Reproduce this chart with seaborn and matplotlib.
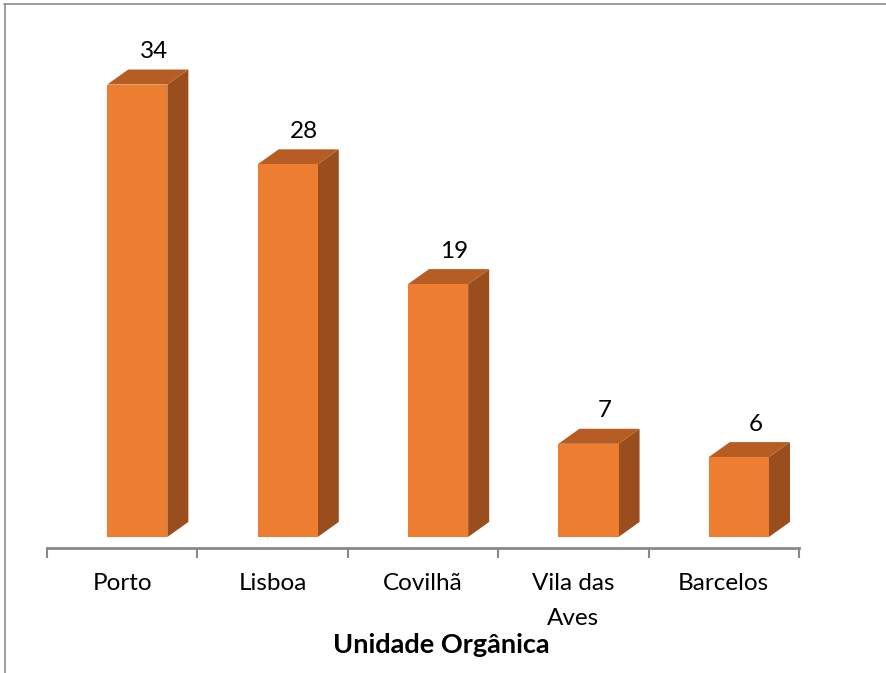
import matplotlib
matplotlib.use("Agg")
import matplotlib.pyplot as plt
from matplotlib.patches import Polygon
from matplotlib.lines import Line2D
import seaborn as sns
import pandas as pd
import numpy as np

# Data
categories = ["Porto", "Lisboa", "Covilhã", "Vila das\nAves", "Barcelos"]
values = [34, 28, 19, 7, 6]

df = pd.DataFrame({"unidade": categories, "n": values})

sns.set_theme(style="white")
plt.rcParams["font.family"] = ["Lato", "DejaVu Sans"]

FRONT = "#ED7D31"
TOP = "#B65D23"
SIDE = "#9A4E1D"

fig = plt.figure(figsize=(8.86, 6.73), dpi=100)
W, H = 886, 673
ax = fig.add_axes([47 / W, (H - 548) / H, (799 - 47) / W, (548 - 30) / H])

bar_w = 0.4
sns.barplot(data=df, x="unidade", y="n", ax=ax, color=FRONT, width=bar_w,
            saturation=1, edgecolor="none", linewidth=0, zorder=3)

# depth of the pseudo-3D boxes, in data units
dx = 0.14
dy = 1.13

for i, v in enumerate(values):
    x0 = i - bar_w / 2
    x1 = i + bar_w / 2
    side = Polygon([(x1, 0), (x1 + dx, dy), (x1 + dx, v + dy), (x1, v)],
                   closed=True, facecolor=SIDE, edgecolor="none", zorder=2)
    top = Polygon([(x0, v), (x0 + dx, v + dy), (x1 + dx, v + dy), (x1, v)],
                  closed=True, facecolor=TOP, edgecolor="none", zorder=2)
    ax.add_patch(side)
    ax.add_patch(top)
    ax.text(i + 0.11, v + dy + 1.35, str(v), ha="center", va="center",
            fontsize=17.5, color="black")

ax.set_xlim(-0.6, 4.4)
ax.set_ylim(-0.83, 38.1)

# category labels centred under each box, ticks at the boundaries
ax.set_xticks([i - 0.1 for i in range(len(categories))])
ax.set_xticklabels(categories, fontsize=17.5, linespacing=1.8)
ax.set_xticks([b - 0.6 for b in range(len(categories) + 1)], minor=True)
ax.tick_params(axis="x", which="major", length=0, pad=18, colors="black")
ax.tick_params(axis="x", which="minor", length=7, width=1.5, color="#898989",
               direction="out", bottom=True)
ax.set_yticks([])
ax.set_ylabel("")
ax.set_xlabel("Unidade Orgânica", fontsize=19.5, fontweight="bold", labelpad=3,
              color="black")
ax.xaxis.label.set_x(0.524)

for s in ["left", "right", "top"]:
    ax.spines[s].set_visible(False)
ax.spines["bottom"].set_color("#898989")
ax.spines["bottom"].set_linewidth(2)

# chart frame
fig.add_artist(Line2D([4 / W, 1], [1 - 4 / H, 1 - 4 / H], transform=fig.transFigure,
                      color="#8C8C8C", linewidth=1.2))
fig.add_artist(Line2D([5 / W, 5 / W], [0, 1 - 4 / H], transform=fig.transFigure,
                      color="#8C8C8C", linewidth=1.2))

fig.savefig("out.png", dpi=100)
